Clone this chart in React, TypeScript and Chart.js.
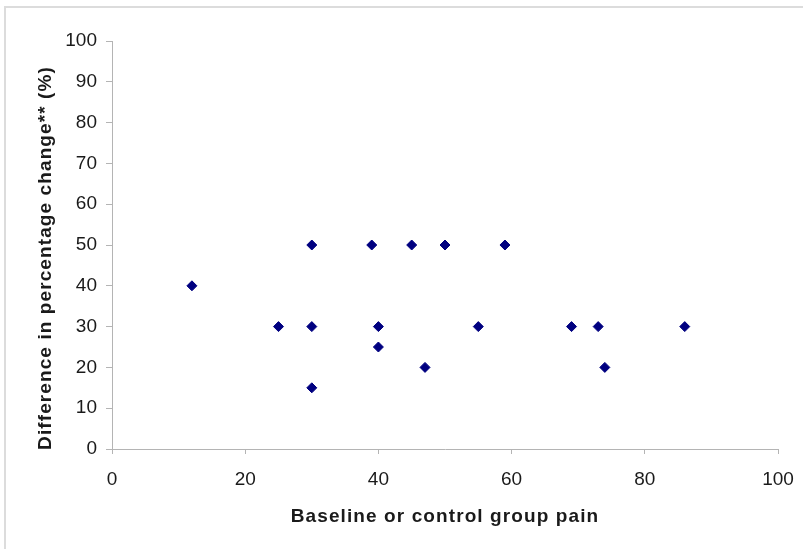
import React, { useEffect, useRef } from "react";
import { Chart, registerables } from "chart.js";

Chart.register(...registerables);

const baselinePain = [12, 25, 30, 30, 30, 39, 40, 40, 45, 47, 50, 55, 59, 69, 73, 74, 86];
const diffChange = [40, 30, 50, 30, 15, 50, 30, 25, 50, 20, 50, 30, 50, 30, 30, 20, 30];
const xTitle = "Baseline or control group pain";
const yTitle = "Difference in percentage change** (%)";

const FONT = "'Liberation Sans', Arial, sans-serif";
const TEXT_COLOR = "#1a1a1a";

const titlePlugin = {
  id: "axisTitlesSpaced",
  afterDraw(chart: any) {
    const { ctx, chartArea } = chart;
    ctx.save();
    ctx.fillStyle = TEXT_COLOR;
    ctx.font = `bold 19px ${FONT}`;
    try {
      (ctx as any).letterSpacing = "1.1px";
    } catch (e) {}
    ctx.textAlign = "center";
    ctx.textBaseline = "alphabetic";
    ctx.fillText(xTitle, (chartArea.left + chartArea.right) / 2, 522);
    ctx.translate(51, (chartArea.top + chartArea.bottom) / 2 + 13);
    ctx.rotate(-Math.PI / 2);
    ctx.fillText(yTitle, 0, 0);
    ctx.restore();
  },
};

export default function App() {
  const ref = useRef<HTMLCanvasElement | null>(null);

  useEffect(() => {
    if (!ref.current) return;
    const points = baselinePain.map((x, i) => ({ x, y: diffChange[i] }));
    const chart = new Chart(ref.current, {
      type: "scatter",
      data: {
        datasets: [
          {
            data: points,
            pointStyle: "rectRot",
            pointRadius: 5,
            pointBorderWidth: 1,
            backgroundColor: "#000080",
            borderColor: "#000080",
          },
        ],
      },
      plugins: [titlePlugin],
      options: {
        responsive: false,
        animation: false,
        layout: { padding: { left: 0, right: 25, top: 41, bottom: 0 } },
        plugins: { legend: { display: false }, tooltip: { enabled: false } },
        scales: {
          x: {
            type: "linear",
            min: 0,
            max: 100,
            afterFit: (s: any) => {
              s.height = 100;
              s.paddingLeft = 0;
              s.paddingRight = 0;
            },
            ticks: {
              stepSize: 20,
              color: TEXT_COLOR,
              padding: 14,
              font: { family: FONT, size: 19 },
            },
            grid: {
              drawOnChartArea: false,
              drawTicks: true,
              tickLength: 5,
              color: "#b4b4b4",
            },
            border: { display: true, color: "#b4b4b4", width: 1 },
            title: { display: false },
          },
          y: {
            type: "linear",
            min: 0,
            max: 100,
            afterFit: (s: any) => {
              s.width = 112;
              s.paddingTop = 0;
              s.paddingBottom = 0;
            },
            ticks: {
              stepSize: 10,
              color: TEXT_COLOR,
              padding: 9,
              font: { family: FONT, size: 19 },
            },
            grid: {
              drawOnChartArea: false,
              drawTicks: true,
              tickLength: 6,
              color: "#b4b4b4",
            },
            border: { display: true, color: "#b4b4b4", width: 1 },
            title: { display: false },
          },
        },
      },
    });
    return () => chart.destroy();
  }, []);

  return (
    <div style={{ position: "fixed", left: 0, top: 0, width: 803, height: 549, background: "#fff", overflow: "hidden" }}>
      <div
        style={{
          position: "absolute",
          left: 4,
          top: 6,
          width: 900,
          height: 700,
          borderLeft: "2px solid #dcdcdc",
          borderTop: "2px solid #dcdcdc",
        }}
      />
      <canvas ref={ref} width={803} height={549} style={{ position: "absolute", left: 0, top: 0 }} />
    </div>
  );
}
